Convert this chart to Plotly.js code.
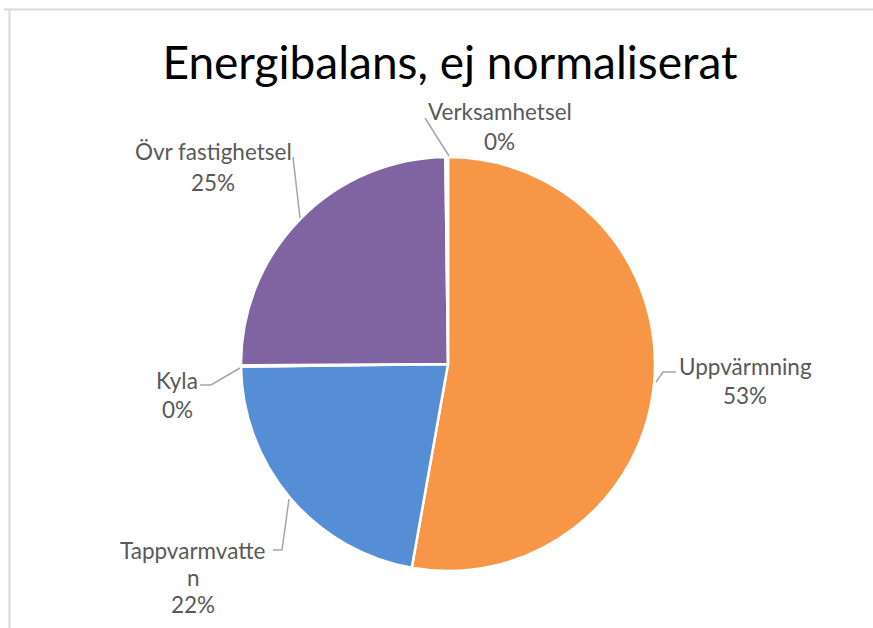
<!DOCTYPE html>
<html>
<head>
<meta charset="utf-8">
<script src="https://cdn.plot.ly/plotly-3.0.1.min.js"></script>
<style>
  html, body { margin: 0; padding: 0; background: #fff; }
  #chart { width: 873px; height: 628px; }
</style>
</head>
<body>
<div id="chart"></div>
<script>
// ---- data ----
const titleText = "Energibalans, ej normaliserat";
const labels = ["Uppvärmning", "Tappvarmvatten", "Kyla", "Övr fastighetsel", "Verksamhetsel"];
const values = [52.8, 22.0, 0.1, 24.9, 0.2];
const colors = ["#F79646", "#558ED5", "#4BACC6", "#8064A2", "#9BBB59"];

// ---- layout helpers (pixel -> paper) ----
const W = 873, H = 628;
const px = x => x / W;
const py = y => 1 - y / H;

const cx = 448, cy = 364, R = 207;

const total = values.reduce((a, b) => a + b, 0);
const pct = values.map(v => Math.round(v / total * 100) + "%");

// label display wrapping (how the text breaks in the reference)
const wrap = { "Tappvarmvatten": ["Tappvarmvatte", "n"] };

// label placement: centre x and line centre y positions (pixels)
const labelPos = {
  "Uppvärmning":      { x: 745, ys: [366, 395] },
  "Tappvarmvatten":   { x: 193, ys: [550, 577, 604] },
  "Kyla":             { x: 177, ys: [380, 409] },
  "Övr fastighetsel": { x: 213, ys: [152, 182] },
  "Verksamhetsel":    { x: 500, ys: [112, 141] }
};
// leader line paths (pixels)
const leaders = {
  "Uppvärmning":      [[656, 382], [663, 372], [676, 372]],
  "Tappvarmvatten":   [[273, 550], [282, 550], [289, 499]],
  "Kyla":             [[200, 385], [211, 385], [240, 368]],
  "Övr fastighetsel": [[293, 157], [300, 218]],
  "Verksamhetsel":    [[425, 118], [449, 156]]
};

const labelFont = { family: "Lato, 'Open Sans', sans-serif", size: 22.5, color: "#595959" };

const annotations = [];
labels.forEach((lab, i) => {
  const lines = (wrap[lab] || [lab]).concat([pct[i]]);
  const pos = labelPos[lab];
  lines.forEach((t, k) => {
    annotations.push({
      text: t, xref: "paper", yref: "paper",
      x: px(pos.x), y: py(pos.ys[k]),
      xanchor: "center", yanchor: "middle",
      showarrow: false, font: labelFont
    });
  });
});

const shapes = [];
labels.forEach(lab => {
  const pts = leaders[lab];
  const d = pts.map((p, k) => (k ? "L" : "M") + px(p[0]) + "," + py(p[1])).join(" ");
  shapes.push({ type: "path", xref: "paper", yref: "paper", path: d,
                line: { color: "#A6A6A6", width: 1.5 } });
});
// chart-area border
shapes.push({ type: "line", xref: "paper", yref: "paper",
              x0: px(4), x1: px(873), y0: py(9.5), y1: py(9.5),
              line: { color: "#D9D9D9", width: 2 } });
shapes.push({ type: "line", xref: "paper", yref: "paper",
              x0: px(9.5), x1: px(9.5), y0: py(9), y1: py(628),
              line: { color: "#D9D9D9", width: 2 } });

const trace = {
  type: "pie",
  labels: labels,
  values: values,
  sort: false,
  direction: "clockwise",
  rotation: 0,
  marker: { colors: colors, line: { color: "#FFFFFF", width: 2.5 } },
  textinfo: "none",
  hoverinfo: "skip",
  showlegend: false,
  domain: { x: [px(cx - R), px(cx + R)], y: [py(cy + R), py(cy - R)] }
};

const layout = {
  width: W, height: H,
  margin: { l: 0, r: 0, t: 0, b: 0, pad: 0 },
  paper_bgcolor: "#FFFFFF",
  plot_bgcolor: "#FFFFFF",
  title: {
    text: titleText,
    font: { family: "Lato, 'Open Sans', sans-serif", size: 46, color: "#000000" },
    x: px(450), xref: "paper", xanchor: "center",
    y: py(63), yref: "container", yanchor: "middle"
  },
  annotations: annotations,
  shapes: shapes
};

Plotly.newPlot("chart", [trace], layout, { displayModeBar: false, staticPlot: true });
</script>
</body>
</html>
